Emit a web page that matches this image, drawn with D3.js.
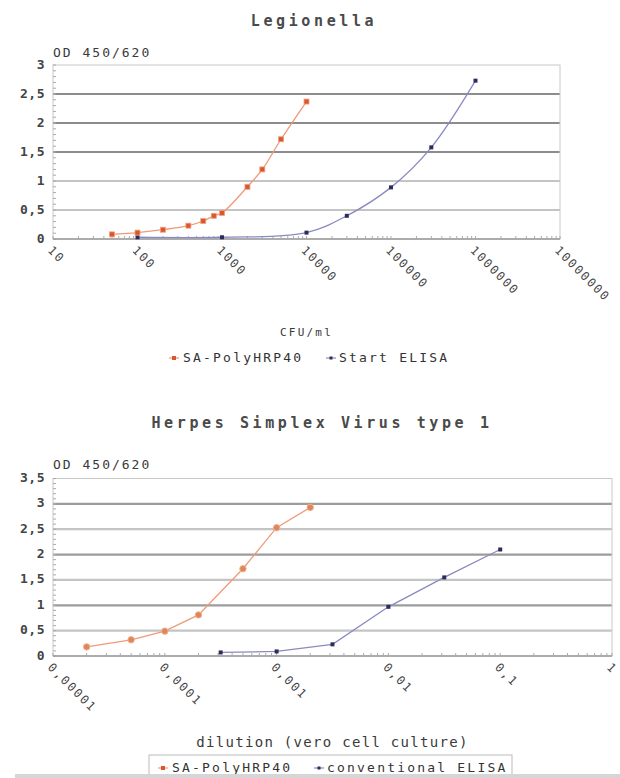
<!DOCTYPE html>
<html><head><meta charset="utf-8">
<script src="https://cdn.jsdelivr.net/npm/d3@7/dist/d3.min.js"></script>
<style>
body{margin:0;background:#fff;}
text{font-family:"DejaVu Sans Mono","Liberation Mono",monospace;fill:#3a3a3a;}
</style></head>
<body><svg id="c" width="620" height="778"></svg>
<script>
// ---- Data ----
const legTitle = "Legionella";
const legXLabel = "CFU/ml";
const legSeriesNames = ["SA-PolyHRP40", "Start ELISA"];
const legRedX = [50, 100, 200, 400, 600, 800, 1000, 2000, 3000, 5000, 10000];
const legRedY = [0.08, 0.11, 0.16, 0.23, 0.31, 0.40, 0.45, 0.90, 1.20, 1.72, 2.37];
const legBlueX = [100, 1000, 10000, 30000, 100000, 300000, 1000000];
const legBlueY = [0.03, 0.03, 0.11, 0.40, 0.89, 1.58, 2.73];
const legXTicks = [10, 100, 1000, 10000, 100000, 1000000, 10000000];
const legYTicks = [0, 0.5, 1, 1.5, 2, 2.5, 3];

const hsvTitle = "Herpes Simplex Virus type 1";
const hsvXLabel = "dilution (vero cell culture)";
const hsvSeriesNames = ["SA-PolyHRP40", "conventional ELISA"];
const hsvRedX = [0.00002, 0.00005, 0.0001, 0.0002, 0.0005, 0.001, 0.002];
const hsvRedY = [0.18, 0.32, 0.49, 0.81, 1.72, 2.53, 2.93];
const hsvBlueX = [0.000316, 0.001, 0.00316, 0.01, 0.0316, 0.1];
const hsvBlueY = [0.07, 0.09, 0.23, 0.97, 1.55, 2.10];
const hsvXTicks = [0.00001, 0.0001, 0.001, 0.01, 0.1, 1];
const hsvXTickLabels = ["0,00001", "0,0001", "0,001", "0,01", "0,1", "1"];
const hsvYTicks = [0, 0.5, 1, 1.5, 2, 2.5, 3, 3.5];
const yAxisTitle = "OD 450/620";

// ---- Drawing ----
const svg = d3.select("#c");
const loc = d3.formatLocale({decimal: ",", thousands: "", grouping: [3], currency: ["", ""]});
const fmtY = v => loc.format("~g")(v);
const RED = "#d9572e", REDLINE = "#ef9a78", BLUE = "#2c2c5c", BLUELINE = "#8a8ac2";

function drawChart(o) {
  const g = svg.append("g");
  const x = d3.scaleLog().domain(o.xDomain).range([o.left, o.right]);
  const y = d3.scaleLinear().domain(o.yDomain).range([o.bottom, o.top]);

  g.append("text").attr("x", o.titleX).attr("y", o.titleY).attr("text-anchor", "middle")
    .attr("dominant-baseline", "middle").style("font-size", "15px").style("letter-spacing", "3.6px")
    .style("font-weight", "bold").style("fill", "#4a4a4a").text(o.title);
  g.append("text").attr("x", o.left).attr("y", o.odY).attr("dominant-baseline", "middle")
    .style("font-size", "13px").style("letter-spacing", "2px").text(yAxisTitle);

  const yt = o.yTicks.filter(v => v > 0 && v < o.yDomain[1]);
  g.selectAll(".grid").data(yt).enter().append("line")
    .attr("x1", o.left).attr("x2", o.right)
    .attr("y1", d => y(d)).attr("y2", d => y(d))
    .attr("stroke", (d, i) => o.gridColor(d, i)).attr("stroke-width", 2.2);

  g.append("rect").attr("x", o.left).attr("y", o.top).attr("width", o.right - o.left)
    .attr("height", o.bottom - o.top).attr("fill", "none").attr("stroke", "#c8c8c8").attr("stroke-width", 1);

  const yMinor = d3.range(0, Math.round(o.yDomain[1] * 10) + 1).map(i => i / 10);
  g.selectAll(".ym").data(yMinor).enter().append("line")
    .attr("x1", o.left).attr("x2", o.left + 3)
    .attr("y1", d => y(d)).attr("y2", d => y(d)).attr("stroke", "#aaa").attr("stroke-width", 1);

  g.append("line").attr("x1", o.left).attr("x2", o.right).attr("y1", o.bottom).attr("y2", o.bottom)
    .attr("stroke", "#9a9a9a").attr("stroke-width", 1.5);
  const xMinor = x.ticks();
  g.selectAll(".xm").data(xMinor).enter().append("line")
    .attr("x1", d => x(d)).attr("x2", d => x(d))
    .attr("y1", o.bottom).attr("y2", o.bottom - 3).attr("stroke", "#aaa").attr("stroke-width", 1);

  g.selectAll(".yl").data(o.yTicks).enter().append("text")
    .attr("x", o.left - 8).attr("y", d => y(d)).attr("text-anchor", "end")
    .attr("dominant-baseline", "middle").style("font-size", "13px").style("font-weight", "bold")
    .style("letter-spacing", "0.5px").style("fill", "#444").text(d => fmtY(d));

  g.selectAll(".xl").data(o.xTicks).enter().append("text")
    .attr("transform", d => `translate(${x(d) - 6},${o.bottom + 12}) rotate(45)`)
    .style("font-size", "12px").style("letter-spacing", "1.8px").style("fill", "#444")
    .text((d, i) => o.xTickLabels[i]);

  g.append("text").attr("x", (o.left + o.right) / 2).attr("y", o.xTitleY).attr("text-anchor", "middle")
    .attr("dominant-baseline", "middle").style("font-size", o.xTitleSize).style("letter-spacing", o.xTitleLS)
    .text(o.xTitle);

  const line = d3.line().x(d => x(d[0])).y(d => y(d[1])).curve(o.curve);
  const red = o.redX.map((v, i) => [v, o.redY[i]]);
  const blue = o.blueX.map((v, i) => [v, o.blueY[i]]);
  g.append("path").datum(blue).attr("d", line).attr("fill", "none").attr("stroke", BLUELINE).attr("stroke-width", 1.3);
  g.append("path").datum(red).attr("d", line).attr("fill", "none").attr("stroke", REDLINE).attr("stroke-width", 1.3);
  g.selectAll(".bm").data(blue).enter().append("rect")
    .attr("x", d => x(d[0]) - 2).attr("y", d => y(d[1]) - 2).attr("width", 4).attr("height", 4)
    .attr("fill", BLUE);
  if (o.redCircle) {
    g.selectAll(".rm").data(red).enter().append("circle")
      .attr("cx", d => x(d[0])).attr("cy", d => y(d[1])).attr("r", 3.2)
      .attr("fill", "#e0855a").attr("stroke", "#f0b090").attr("stroke-width", 1);
  } else {
    g.selectAll(".rm").data(red).enter().append("rect")
      .attr("x", d => x(d[0]) - 2.5).attr("y", d => y(d[1]) - 2.5).attr("width", 5).attr("height", 5)
      .attr("fill", RED).attr("stroke", "#f0a080").attr("stroke-width", 0.8);
  }

  const lg = g.append("g");
  if (o.legendBox) {
    lg.append("rect").attr("x", o.legendBox[0]).attr("y", o.legendBox[1]).attr("width", o.legendBox[2])
      .attr("height", o.legendBox[3]).attr("fill", "#fff").attr("stroke", "#bbb").attr("stroke-width", 1);
  }
  const lx = o.legendX;
  lg.append("line").attr("x1", lx[0] - 5).attr("x2", lx[0] + 5).attr("y1", o.legendY).attr("y2", o.legendY)
    .attr("stroke", REDLINE).attr("stroke-width", 1.2);
  lg.append("rect").attr("x", lx[0] - 2).attr("y", o.legendY - 2).attr("width", 4).attr("height", 4).attr("fill", RED);
  lg.append("text").attr("x", lx[0] + 9).attr("y", o.legendY).attr("dominant-baseline", "middle")
    .style("font-size", "13px").style("letter-spacing", "2.2px").style("fill", "#333").text(o.names[0]);
  lg.append("line").attr("x1", lx[1] - 5).attr("x2", lx[1] + 5).attr("y1", o.legendY).attr("y2", o.legendY)
    .attr("stroke", BLUELINE).attr("stroke-width", 1.2);
  lg.append("rect").attr("x", lx[1] - 1.5).attr("y", o.legendY - 1.5).attr("width", 3).attr("height", 3).attr("fill", BLUE);
  lg.append("text").attr("x", lx[1] + 8).attr("y", o.legendY).attr("dominant-baseline", "middle")
    .style("font-size", "13px").style("letter-spacing", "2.2px").style("fill", "#333").text(o.names[1]);
}

drawChart({
  title: legTitle, titleX: 314, titleY: 21, odY: 53,
  left: 53, right: 560, top: 65, bottom: 239,
  xDomain: [10, 10000000], yDomain: [0, 3],
  xTicks: legXTicks, xTickLabels: legXTicks.map(d => String(d)), yTicks: legYTicks,
  gridColor: (d) => d >= 1.5 ? "#8c8c8c" : "#c4c4c4",
  xTitle: legXLabel, xTitleY: 333, xTitleSize: "11px", xTitleLS: "2.2px",
  redX: legRedX, redY: legRedY, blueX: legBlueX, blueY: legBlueY,
  curve: d3.curveCatmullRom, redCircle: false,
  names: legSeriesNames, legendX: [174, 331], legendY: 358, legendBox: null
});

drawChart({
  title: hsvTitle, titleX: 322, titleY: 423, odY: 465,
  left: 53, right: 612, top: 478.5, bottom: 656,
  xDomain: [0.00001, 1], yDomain: [0, 3.5],
  xTicks: hsvXTicks, xTickLabels: hsvXTickLabels, yTicks: hsvYTicks,
  gridColor: (d, i) => i % 2 === 0 ? "#c4c4c4" : "#9c9c9c",
  xTitle: hsvXLabel, xTitleY: 743, xTitleSize: "14px", xTitleLS: "1.3px",
  redX: hsvRedX, redY: hsvRedY, blueX: hsvBlueX, blueY: hsvBlueY,
  curve: d3.curveLinear, redCircle: true,
  names: hsvSeriesNames, legendX: [163, 319], legendY: 768, legendBox: [149, 755, 363, 26]
});

svg.append("rect").attr("x", 15).attr("y", 774).attr("width", 605).attr("height", 4).attr("fill", "#d6d6d6");
</script></body></html>
